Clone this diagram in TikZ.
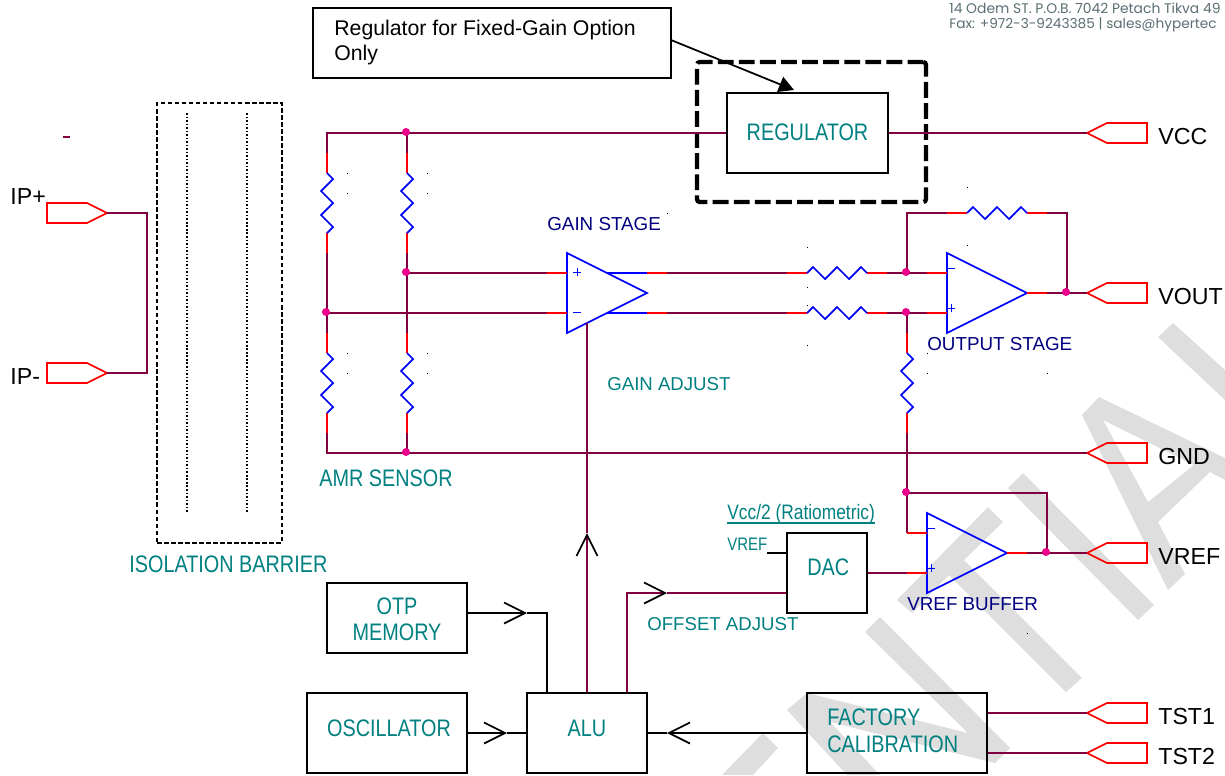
\documentclass[tikz,border=0pt]{standalone}
\usepackage{fontspec}
\setmainfont{Liberation Sans}
\newfontfamily\narrowfont[FakeStretch=0.83]{Liberation Sans}
\newfontfamily\headfont{Poppins}
\usetikzlibrary{arrows.meta}
\definecolor{vino}{RGB}{128, 0, 64}
\definecolor{verde}{RGB}{0, 128, 128}
\definecolor{marino}{RGB}{0, 0, 128}
\definecolor{marca}{RGB}{222, 222, 222}
\definecolor{cabecera}{RGB}{90, 110, 115}
\tikzset{
    wire/.style={vino, line width=1pt},
    lead/.style={red, line width=1pt},
    part/.style={blue, line width=1pt},
    sig/.style={black, line width=1pt},
    dot/.style={circle, fill=magenta, inner sep=0pt, minimum size=0.16cm},
    block/.style={draw, line width=1pt, inner sep=0pt},
    tagV/.style={text=verde, inner sep=0pt, anchor=west, font=\narrowfont\fontsize{13.6}{14.5}\selectfont},
    tagC/.style={tagV, anchor=center, align=center},
    tagT/.style={text=verde, inner sep=0pt, anchor=west, font=\fontsize{10.6}{13}\selectfont},
    tagN/.style={text=marino, inner sep=0pt, anchor=west, font=\fontsize{10.7}{13}\selectfont},
    tagK/.style={text=black, inner sep=0pt, anchor=west, font=\fontsize{13.2}{15}\selectfont},
    vee/.style={-{Straight Barb[length=0.42cm, width=0.42cm, black, line width=1pt]}},
    pinshape/.pic={
        \coordinate (-tip) at (0,0);
        \draw[lead, line join=miter] (0,0) -- (20,-10) -- (60,-10) -- (60,10) -- (20,10) -- cycle;
    },
    resistor/.pic={
        \coordinate (-a) at (-50,0);
        \coordinate (-b) at (50,0);
        \draw[lead] (-50,0) -- (-30,0);
        \draw[lead] (30,0) -- (50,0);
        \draw[part] (-30,0) -- (-24,-6) -- (-12,6) -- (0,-6) -- (12,6) -- (24,-6) -- (30,0);
    },
    opamp/.pic={
        \coordinate (-top) at (-20,-20);
        \coordinate (-bot) at (-20,20);
        \coordinate (-out) at (80,0);
        \draw[part] (0,-40) -- (80,0) -- (0,40) -- cycle;
    },
    plussign/.pic={
        \draw[blue, line width=0.45pt] (-4,0) -- (4,0) (0,-4) -- (0,4);
    },
    minussign/.pic={
        \draw[blue, line width=0.45pt] (-4,0) -- (4,0);
    },
}
\begin{document}
\begin{tikzpicture}[x=0.02cm, y=-0.02cm]
    \useasboundingbox (0,0) rectangle (1225,775);

    % watermark
    \fill[marca] (1173,323) -- (1225,370) -- (1225,400) -- (1158,337) -- cycle;
    \fill[marca, even odd rule] (1082,415) -- (1099,397) -- (1225,458) -- (1225,480) -- (1210,472) -- (1158,522) -- (1185,574) -- (1168,590) -- cycle
        (1103,420) -- (1148,502) -- (1194,465) -- cycle;
    \fill[marca] (1023,473) -- (1154,605) -- (1138,620) -- (1008,488) -- cycle;
    \fill[marca] (988,507) -- (1003,522) -- (964,560) -- (1082,678) -- (1066,692) -- (949,575) -- (912,613) -- (897,600) -- cycle;
    \fill[marca] (880,617) -- (1010,748) -- (995,763) -- (830,722) -- (880,775) -- (847,775) -- (787,710) -- (807,693) -- (968,733) -- (865,632) -- cycle;
    \fill[marca] (763,733) -- (778,748) -- (753,775) -- (722,775) -- cycle;

    % letterhead
    \node[inner sep=0pt, anchor=west, text=cabecera, font=\headfont\fontsize{7.9}{9}\selectfont] (addr) at (949,8) {14 Odem ST. P.O.B. 7042 Petach Tikva 49};
    \node[inner sep=0pt, anchor=west, text=cabecera, font=\headfont\fontsize{7.8}{9}\selectfont] (fax) at (949,25) {Fax: +972-3-9243385 | sales@hypertec};

    % isolation barrier
    \node[draw, dash pattern=on 2.6pt off 1.4pt, line width=0.9pt, minimum width=2.5cm, minimum height=8.8cm, inner sep=0pt] (barrier) at (219.5,323) {};
    \coordinate (d1a) at (187,113);
    \coordinate (d1b) at (187,513);
    \coordinate (d2a) at (247,113);
    \coordinate (d2b) at (247,513);
    \draw[line width=0.9pt, dash pattern=on 0.9pt off 1.1pt] (d1a) -- (d1b);
    \draw[line width=0.9pt, dash pattern=on 0.9pt off 1.1pt] (d2a) -- (d2b);
    \node[tagV] (barrierL) at (129,564) {ISOLATION BARRIER};

    % blocks
    \node[block, minimum width=3.22cm, minimum height=1.6cm] (reg) at (807.5,133) {};
    \node[tagC] (regL) at (807.5,132) {REGULATOR};
    \node[block, minimum width=2.8cm, minimum height=1.4cm] (otp) at (397,618) {};
    \node[tagC] (otpL) at (397,619.5) {OTP\\MEMORY};
    \node[block, minimum width=3.2cm, minimum height=1.6cm] (osc) at (387,733) {};
    \node[tagC] (oscL) at (389,728) {OSCILLATOR};
    \node[block, minimum width=2.4cm, minimum height=1.6cm] (alu) at (587,733) {};
    \node[tagC] (aluL) at (587,728) {ALU};
    \node[block, minimum width=3.6cm, minimum height=1.6cm] (fact) at (897,733) {};
    \node[tagV, align=left, font=\narrowfont\fontsize{13.6}{15.4}\selectfont] (factL) at (827,731) {FACTORY\\CALIBRATION};
    \node[block, minimum width=1.6cm, minimum height=1.6cm] (dac) at (827,573) {};
    \node[tagV] (dacL) at (807,567) {DAC};

    % note and thick dashed frame
    \node[block, minimum width=7.16cm, minimum height=1.4cm] (note) at (492,43) {};
    \node[inner sep=0pt, anchor=west, align=left, font=\fontsize{12.1}{14.2}\selectfont] (noteL) at (334,42.5) {Regulator for Fixed-Gain Option\\Only};
    \node[draw, line width=2.4pt, dash pattern=on 9pt off 3pt, rounded corners=1.5pt, inner sep=0pt, minimum width=4.58cm, minimum height=2.8cm] (frame) at (811.5,132) {};
    \coordinate (noteOut) at (671,40);
    \coordinate (noteTip) at (794,90);
    \draw[line width=1pt, -{Triangle[length=0.3cm, width=0.32cm]}] (noteOut) -- (noteTip);

    % pins
    \pic (ipp) at (107,213) [rotate=180] {pinshape};
    \pic (ipm) at (107,373) [rotate=180] {pinshape};
    \pic (vcc) at (1087,133) {pinshape};
    \pic (vout) at (1087,293) {pinshape};
    \pic (gnd) at (1087,453) {pinshape};
    \pic (vref) at (1087,553) {pinshape};
    \pic (tsta) at (1087,713) {pinshape};
    \pic (tstb) at (1087,753) {pinshape};
    \node[tagK] (ippL) at (10,197) {IP+};
    \node[tagK] (ipmL) at (10,377) {IP-};
    \node[tagK] (vccL) at (1158,137) {VCC};
    \node[tagK] (voutL) at (1158,297) {VOUT};
    \node[tagK] (gndL) at (1158,457) {GND};
    \node[tagK] (vrefL) at (1158,557) {VREF};
    \node[tagK] (tstaL) at (1158,717) {TST1};
    \node[tagK] (tstbL) at (1158,757) {TST2};

    % input side
    \coordinate (ipc1) at (147,213);
    \coordinate (ipc2) at (147,373);
    \draw[wire] (ipp-tip) -- (ipc1) -- (ipc2) -- (ipm-tip);
    \coordinate (stray1) at (63,137);
    \coordinate (stray2) at (70,137);
    \draw[wire] (stray1) -- (stray2);

    % sensor bridge
    \pic (ra) at (327,203) [rotate=-90] {resistor};
    \pic (rb) at (407,203) [rotate=-90] {resistor};
    \pic (rc) at (327,383) [rotate=-90] {resistor};
    \pic (rd) at (407,383) [rotate=-90] {resistor};
    \coordinate (tl) at (327,133);
    \coordinate (tm) at (407,133);
    \coordinate (bl) at (327,453);
    \coordinate (bm) at (407,453);
    \coordinate (ml) at (327,313);
    \coordinate (mm) at (407,273);
    \draw[wire] (ra-a) -- (tl) -- (reg.west);
    \draw[wire] (rb-a) -- (tm);
    \draw[wire] (ra-b) -- (rc-a);
    \draw[wire] (rb-b) -- (rd-a);
    \draw[wire] (rc-b) -- (bl) -- (gnd-tip);
    \draw[wire] (rd-b) -- (bm);
    \draw[wire] (reg.east) -- (vcc-tip);
    \node[tagV] (amr) at (319,478) {AMR SENSOR};

    % gain stage
    \pic (gain) at (567,293) {opamp};
    \pic at (577,272) {plussign};
    \pic at (577,312) {minussign};
    \node[tagN] (gainL) at (547,224) {GAIN STAGE};
    \coordinate (gaOutA) at (607,273);
    \coordinate (gaOutAe) at (647,273);
    \coordinate (gaOutAr) at (667,273);
    \coordinate (gaOutB) at (607,313);
    \coordinate (gaOutBe) at (647,313);
    \coordinate (gaOutBr) at (667,313);
    \draw[wire] (mm) -- (gain-top);
    \draw[wire] (ml) -- (gain-bot);
    \draw[lead] (gain-top) -- ++(20,0);
    \draw[lead] (gain-bot) -- ++(20,0);
    \draw[part] (gaOutA) -- (gaOutAe);
    \draw[part] (gaOutB) -- (gaOutBe);
    \draw[lead] (gaOutAe) -- (gaOutAr);
    \draw[lead] (gaOutBe) -- (gaOutBr);
    \pic (re) at (837,273) {resistor};
    \pic (rf) at (837,313) {resistor};
    \draw[wire] (gaOutAr) -- (re-a);
    \draw[wire] (gaOutBr) -- (rf-a);

    % output stage
    \pic (outp) at (947,293) {opamp};
    \pic at (951,268) {minussign};
    \pic at (951,308) {plussign};
    \node[tagN] (outpL) at (927,344) {OUTPUT STAGE};
    \coordinate (oja) at (907,273);
    \coordinate (ojb) at (907,313);
    \coordinate (ojc) at (1067,293);
    \draw[wire] (re-b) -- (outp-top);
    \draw[wire] (rf-b) -- (outp-bot);
    \draw[lead] (outp-top) -- ++(20,0);
    \draw[lead] (outp-bot) -- ++(20,0);
    \pic (rg) at (997,213) {resistor};
    \coordinate (fba) at (907,213);
    \coordinate (fbb) at (1067,213);
    \coordinate (ouend) at (1047,293);
    \draw[wire] (oja) -- (fba) -- (rg-a);
    \draw[wire] (rg-b) -- (fbb) -- (ojc);
    \draw[lead] (outp-out) -- (ouend);
    \draw[wire] (ouend) -- (vout-tip);

    % offset divider and reference buffer
    \pic (rh) at (907,383) [rotate=-90] {resistor};
    \pic (vbuf) at (927,553) {opamp};
    \pic at (931,528) {minussign};
    \pic at (931,568) {plussign};
    \node[tagN] (vbufL) at (907,604) {VREF BUFFER};
    \coordinate (vba) at (907,533);
    \coordinate (vbb) at (907,493);
    \coordinate (vbc) at (1047,493);
    \coordinate (vbd) at (1047,553);
    \coordinate (vbe) at (1027,553);
    \coordinate (vbf) at (907,573);
    \coordinate (vbg) at (927,533);
    \coordinate (vbh) at (927,573);
    \draw[wire] (ojb) -- (rh-a);
    \draw[wire] (rh-b) -- (vba);
    \draw[lead] (vba) -- (vbg);
    \draw[wire] (vbb) -- (vbc) -- (vbd);
    \draw[lead] (vbuf-out) -- (vbe);
    \draw[wire] (vbe) -- (vref-tip);
    \draw[wire] (dac.east) -- (vbf);
    \draw[lead] (vbf) -- (vbh);
    \coordinate (vrefIn) at (767,553);
    \draw[sig] (vrefIn) -- (dac.west |- vrefIn);
    \node[tagV, font=\narrowfont\fontsize{10.3}{12}\selectfont] (vrefTag) at (727,544) {VREF};
    \node[tagV, font=\narrowfont\fontsize{11.9}{14}\selectfont] (ratio) at (727,514) {Vcc/2 (Ratiometric)};
    \coordinate (ulA) at (727,523);
    \draw[verde, line width=0.85pt] (ulA) -- (ratio.east |- ulA);

    % logic
    \coordinate (gnIn) at (587,323);
    \coordinate (gnTip) at (587,533);
    \coordinate (ofA) at (627,593);
    \coordinate (ofTip) at (667,593);
    \coordinate (otpTip) at (527,613);
    \coordinate (otpC) at (547,613);
    \coordinate (oscTip) at (507,733);
    \coordinate (calTip) at (667,733);
    \draw[wire] (gnTip) -- (gnIn);
    \draw[wire, vee] (alu.north -| gnIn) -- (gnTip);
    \draw[wire] (ofTip) -- (dac.west |- ofTip);
    \draw[wire, vee] (alu.north -| ofA) -- (ofA) -- (ofTip);
    \draw[sig, vee] (otp.east |- otpTip) -- (otpTip);
    \draw[sig] (otpTip) -- (otpC) -- (alu.north -| otpC);
    \draw[sig, vee] (osc.east) -- (oscTip);
    \draw[sig] (oscTip) -- (alu.west);
    \draw[sig, vee] (fact.west) -- (calTip);
    \draw[sig] (calTip) -- (alu.east);
    \draw[wire] (fact.east |- tsta-tip) -- (tsta-tip);
    \draw[wire] (fact.east |- tstb-tip) -- (tstb-tip);
    \node[tagT] (gnAdj) at (607,384) {GAIN ADJUST};
    \node[tagT] (ofAdj) at (647,624) {OFFSET ADJUST};

    % junctions
    \foreach \n/\p in {ja/{406,132}, jb/{406,272}, jc/{326,312}, jd/{406,452}, je/{906,272}, jf/{906,312}, jg/{1066,292}, jh/{906,492}, ji/{1046,552}}
        \node[dot] (\n) at (\p) {};

    % specks
    \foreach \x/\y in {347/173, 347/193, 427/173, 427/193, 347/353, 347/373, 427/353, 427/373, 667/213, 807/247, 807/287, 807/305, 807/345, 967/187, 967/245, 927/353, 927/373, 1047/373, 1027/633}
        \fill (\x,\y) rectangle ++(1,1);
\end{tikzpicture}
\end{document}
